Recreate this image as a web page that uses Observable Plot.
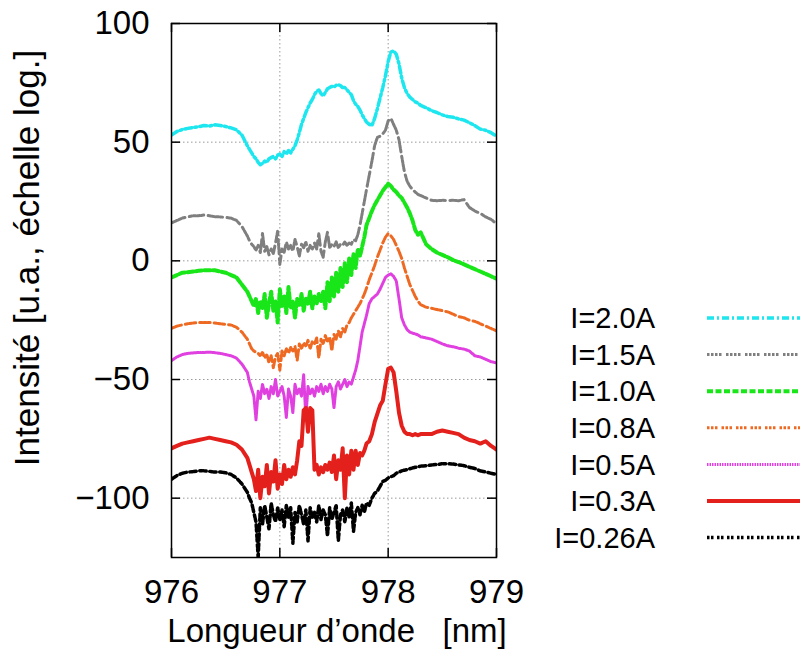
<!DOCTYPE html>
<html><head><meta charset="utf-8">
<script src="https://cdn.jsdelivr.net/npm/d3@7"></script>
<script src="https://cdn.jsdelivr.net/npm/@observablehq/plot@0.6"></script>
<style>
html,body{margin:0;padding:0;background:#fff;}
#wrap{position:relative;width:800px;height:662px;overflow:hidden;font-family:"Liberation Sans",Arial,sans-serif;}
#wrap svg{display:block;}
#legend{position:absolute;left:0;top:0;pointer-events:none;}
</style></head><body><div id="wrap"></div>
<script>
// wavelength sample positions (nm)
const wavelength = [
976.00,976.05,976.10,976.15,976.20,976.25,976.30,976.35,976.40,976.45,976.50,976.55,976.60,976.65,976.70,
976.72,976.74,976.76,976.78,976.80,976.82,976.84,976.86,976.88,976.90,
976.92,976.94,976.96,976.98,977.00,977.02,977.04,977.06,977.08,977.10,
977.12,977.14,977.16,977.18,977.20,977.22,977.24,977.26,977.28,977.30,
977.32,977.34,977.36,977.38,977.40,977.42,977.44,977.46,977.48,977.50,
977.52,977.54,977.56,977.58,977.60,977.62,977.64,977.66,977.68,977.70,
977.72,977.74,977.76,977.78,977.80,
977.825,977.85,977.875,977.90,977.925,977.95,977.975,978.00,978.025,978.05,
978.075,978.10,978.125,978.15,978.175,978.20,978.225,978.25,978.275,978.30,
978.35,978.40,978.45,978.50,978.55,978.60,978.65,978.70,978.75,978.80,978.85,978.90,978.95,979.00];

const I20 = [53,54.5,55.3,55.8,56.2,56.5,57,56.8,57.3,57,56.6,56,55.2,53,48.5,
47,45.5,44,43,41.5,40.5,41,42,41.5,43,
43.5,44,43,44.5,45,44,46,45,46.5,45.5,
47,48.5,51,54,57.5,60,62.5,64.5,66.5,68,
70,71.5,72,70.5,69.5,71,72.5,73,73.5,73.2,
74,74.2,73.8,73,73,72,71,70,67.5,66,
65,63.5,61.5,60,58.5,
57.5,57,60,64,68.5,73,78,84,88,88.5,
87,83,77,73,70.5,69,68,67,66.5,65.5,
64.5,63.3,62.5,61.5,60.8,60.5,59.8,59.3,58.2,57,55.5,55,54,52.5];

const I15 = [16,17,18,18.5,19,19,19.3,19,18.6,18.5,18.3,18,17,14.5,10.5,
8.5,7,6,4.5,6.5,3.5,11.5,4,6,2.5,
5,3,7.5,12.5,-1.5,5,3.5,8,5,6.5,
4,9,6,2,7,5.5,8,4,6.5,5,
7.5,5,11.5,4,1.5,8,12,5.5,7,6,
8,5.5,7,6.5,8,6.5,7.5,7,9,8.5,
11,15,20,25,30,
36,42,48.5,52,52.5,53.5,55,59,60,57.5,
55,51,44,37.5,33.5,31.5,30,29,28,27.5,
26.5,25.5,25.3,25.5,25.4,25.5,25.3,25.8,22.5,21,20,18.5,17.5,15.5];

const I10 = [-7,-6,-5,-4.8,-4.5,-4.2,-4,-4,-4,-4.5,-5,-6,-7,-10,-13,
-15,-17,-19,-16,-22,-17,-20,-14,-24,-18,
-13,-21,-17,-26,-12,-19,-15,-22,-11,-20,
-17,-24,-16,-19,-14,-21,-16,-18,-13,-20,
-15,-18,-14,-17,-13,-20,-9,-17,-7,-15,
-5,-13,-3,-11,-1,-9,1,-6,3,-3,
5,2,6,10,15,
18,21,23.5,25.5,27.5,29.5,31,32.5,31.5,30,
29,27.5,26.5,24.5,22.5,20,17,13,11,12,
7,5,3.5,2.5,1.5,0.3,-0.5,-1.5,-2.5,-3.5,-4.5,-5.5,-6.5,-7.5];

const I08 = [-28.5,-27.5,-27,-26.5,-26.2,-26,-26,-26,-26.2,-26.5,-26.8,-27,-28,-30,-33,
-35,-37,-38,-38.5,-39,-40,-38.5,-41,-39.5,-43,
-40,-45,-40.5,-39,-46,-38,-40,-37,-39,-36.5,
-38,-36,-42,-35,-37,-34.5,-36,-33.5,-37,-34,
-35,-32.5,-41,-33,-35,-31.5,-34,-32,-38,-31,
-33,-29.5,-32,-28.5,-30,-27,-26,-24,-22.5,-21,
-19.5,-18,-16,-14,-11.5,
-8,-5,-2,1.5,4.5,7.5,10,11.5,10.5,9,
6.5,4,1,-3,-6.5,-10,-12.5,-15,-17,-18.5,
-19.5,-20,-20.5,-21,-21.5,-22.5,-23.5,-24,-25,-25.5,-26.5,-27.5,-28.5,-29.5];

const I05 = [-42,-40.5,-39.5,-39,-38.8,-38.6,-38.6,-38.5,-38.7,-39,-39.5,-40,-41,-43.5,-47,
-51,-54,-57,-67,-55,-58,-52,-56,-54,-58,
-53,-56,-50,-57,-55,-53,-57,-66,-54,-57,
-64,-52,-56,-54,-57,-48,-66,-53,-56,-54,
-57,-53,-55,-52,-56,-53,-55,-52,-54,-62,
-53,-51,-54,-52,-50,-53,-51,-52,-49,-46,
-42,-36,-30,-26.5,-23,
-18,-16,-15,-14,-12,-9.5,-7,-6,-5.5,-6.5,
-8.5,-16,-24,-27,-29,-30,-30.5,-30.8,-31.2,-32,
-32.5,-33,-34,-35,-35.8,-36.2,-36.8,-37.2,-38,-40,-40.5,-41.5,-42.5,-43];

const I03 = [-79,-78,-77,-76.5,-76,-75.5,-75,-74.5,-75,-75.5,-76,-76.5,-77.5,-79.5,-83,
-86,-89,-92,-97,-88,-100,-91,-95,-86,-98,
-89,-93,-84,-96,-90,-94,-86,-92,-88,-91,
-87,-90,-84,-76,-78,-63,-62,-72,-62,-63,
-88,-86,-90,-87,-89,-86,-88,-85,-89,-82,
-92,-84,-88,-79,-100,-82,-90,-80,-88,-80,
-86,-81,-82,-80,-77,
-76,-73,-68,-64.5,-61,-59,-52,-45.5,-45,-47,
-55,-64,-69.5,-72,-73,-73,-73.5,-73,-73.5,-73,
-73,-73,-72,-71.5,-72,-72.5,-73,-74.5,-75.5,-76,-77,-76,-78,-79.5];

const I026 = [-92,-90.5,-89.5,-89,-88.8,-88.5,-88.5,-88.7,-89,-89,-89.3,-90,-91.5,-94,-97.5,
-100,-102,-106,-110,-125,-104,-111,-103,-108,-113,
-102,-107,-110,-104,-109,-105,-112,-103,-108,-104,
-119,-106,-110,-103,-107,-111,-105,-118,-104,-108,
-106,-110,-103,-109,-105,-107,-116,-104,-109,-106,
-103,-118,-107,-105,-110,-104,-108,-102,-114,-106,
-104,-107,-103,-106,-102,
-103,-100,-98,-97,-95,-93,-92.5,-91.5,-91,-90.5,
-89.5,-89,-88.5,-88.2,-88,-87.6,-87.3,-87,-86.8,-86.5,
-86.3,-86,-85.8,-85.5,-85.5,-85.6,-86,-86.3,-87,-87.5,-88.5,-89,-89.5,-90];

const seriesLabels = ["I=2.0A","I=1.5A","I=1.0A","I=0.8A","I=0.5A","I=0.3A","I=0.26A"];
const seriesValues = [I20, I15, I10, I08, I05, I03, I026];
const xTicks = [976, 977, 978, 979];
const yTicks = [-100, -50, 0, 50, 100];

// styles
const colors = ["#1de6ef","#7f7f7f","#19e619","#ee6a22","#e040e0","#e3201b","#000000"];
const dashes = ["7,3,2,3","2.5,1.5,2.5,1.5,2.5,1.5,2.5,4.5","6,2.5","2.5,1.5,2.5,1.5,2.5,4","1.5,1",null,"2.5,1.5,2.5,3.5"];
const widths = [3.5,3,4,3,3,4,3.5];

seriesValues.forEach((s,k)=>{ if (s.length !== wavelength.length) console.warn(seriesLabels[k], s.length, wavelength.length); });

const rows = seriesLabels.flatMap((s,k)=> wavelength.map((w,i)=>({series:s, wl:w, v:seriesValues[k][i]})));

const W = 800, H = 662, mL = 171, mR = 304, mT = 23, mB = 105;
const innerH = H - mT - mB, innerW = W - mL - mR, tk = 9;
const fmt = d => d < 0 ? "\u2212" + Math.abs(d) : String(d);

const lineMarks = seriesLabels.map((s,k)=> Plot.line(rows.filter(r=>r.series===s), {
  x: "wl", y: "v", stroke: colors[k], strokeWidth: widths[k],
  strokeDasharray: dashes[k] || undefined, clip: true, strokeLinejoin: "round"
}));

const chart = Plot.plot({
  width: W, height: H, marginLeft: mL, marginRight: mR, marginTop: mT, marginBottom: mB,
  style: {fontFamily: "'Liberation Sans', Arial, sans-serif", fontSize: "33px", color: "black", background: "white", overflow: "visible"},
  x: {domain: [976, 979], ticks: xTicks, tickSize: 0, tickPadding: 22, label: null, tickFormat: fmt},
  y: {domain: [-125, 100], ticks: yTicks, tickSize: 0, tickPadding: 22, label: null, tickFormat: fmt},
  marks: [
    Plot.ruleX(xTicks.slice(1, -1), {stroke: "#9a9a9a", strokeWidth: 1, strokeDasharray: "1.5,2.5"}),
    Plot.ruleY(yTicks.slice(0, -1), {stroke: "#9a9a9a", strokeWidth: 1, strokeDasharray: "1.5,2.5"}),
    ...lineMarks,
    Plot.tickX(xTicks, {insetTop: innerH - tk, stroke: "black", strokeWidth: 1.5}),
    Plot.tickX(xTicks, {insetBottom: innerH - tk, stroke: "black", strokeWidth: 1.5}),
    Plot.tickY(yTicks, {insetRight: innerW - tk, stroke: "black", strokeWidth: 1.5}),
    Plot.tickY(yTicks, {insetLeft: innerW - tk, stroke: "black", strokeWidth: 1.5}),
    Plot.frame({stroke: "black", strokeWidth: 1.5})
  ]
});
document.getElementById("wrap").appendChild(chart);

// axis titles
const svg = d3.select(chart);
svg.append("text")
  .attr("x", 337).attr("y", 642)
  .attr("text-anchor", "middle")
  .style("white-space", "pre")
  .attr("font-size", 33)
  .attr("fill", "black")
  .text("Longueur d\u2019onde   [nm]");
svg.append("text")
  .attr("transform", "translate(39,258) rotate(-90)")
  .attr("text-anchor", "middle")
  .attr("font-size", 35)
  .attr("fill", "black")
  .text("Intensit\u00e9 [u.a., \u00e9chelle log.]");

// legend overlay
const leg = d3.select("#wrap").append("svg").attr("id", "legend").attr("width", W).attr("height", H);
seriesLabels.forEach((s,k)=>{
  const y = 318 + k * 36.6;
  leg.append("text").attr("x", 655).attr("y", y).attr("dy", "0.35em")
    .attr("text-anchor", "end").attr("font-size", 29)
    .attr("font-family", "'Liberation Sans', Arial, sans-serif").attr("fill", "black").text(s);
  leg.append("line").attr("x1", 707).attr("x2", 812).attr("y1", y).attr("y2", y)
    .attr("stroke", colors[k]).attr("stroke-width", widths[k])
    .attr("stroke-dasharray", dashes[k] || null);
});
</script></body></html>
